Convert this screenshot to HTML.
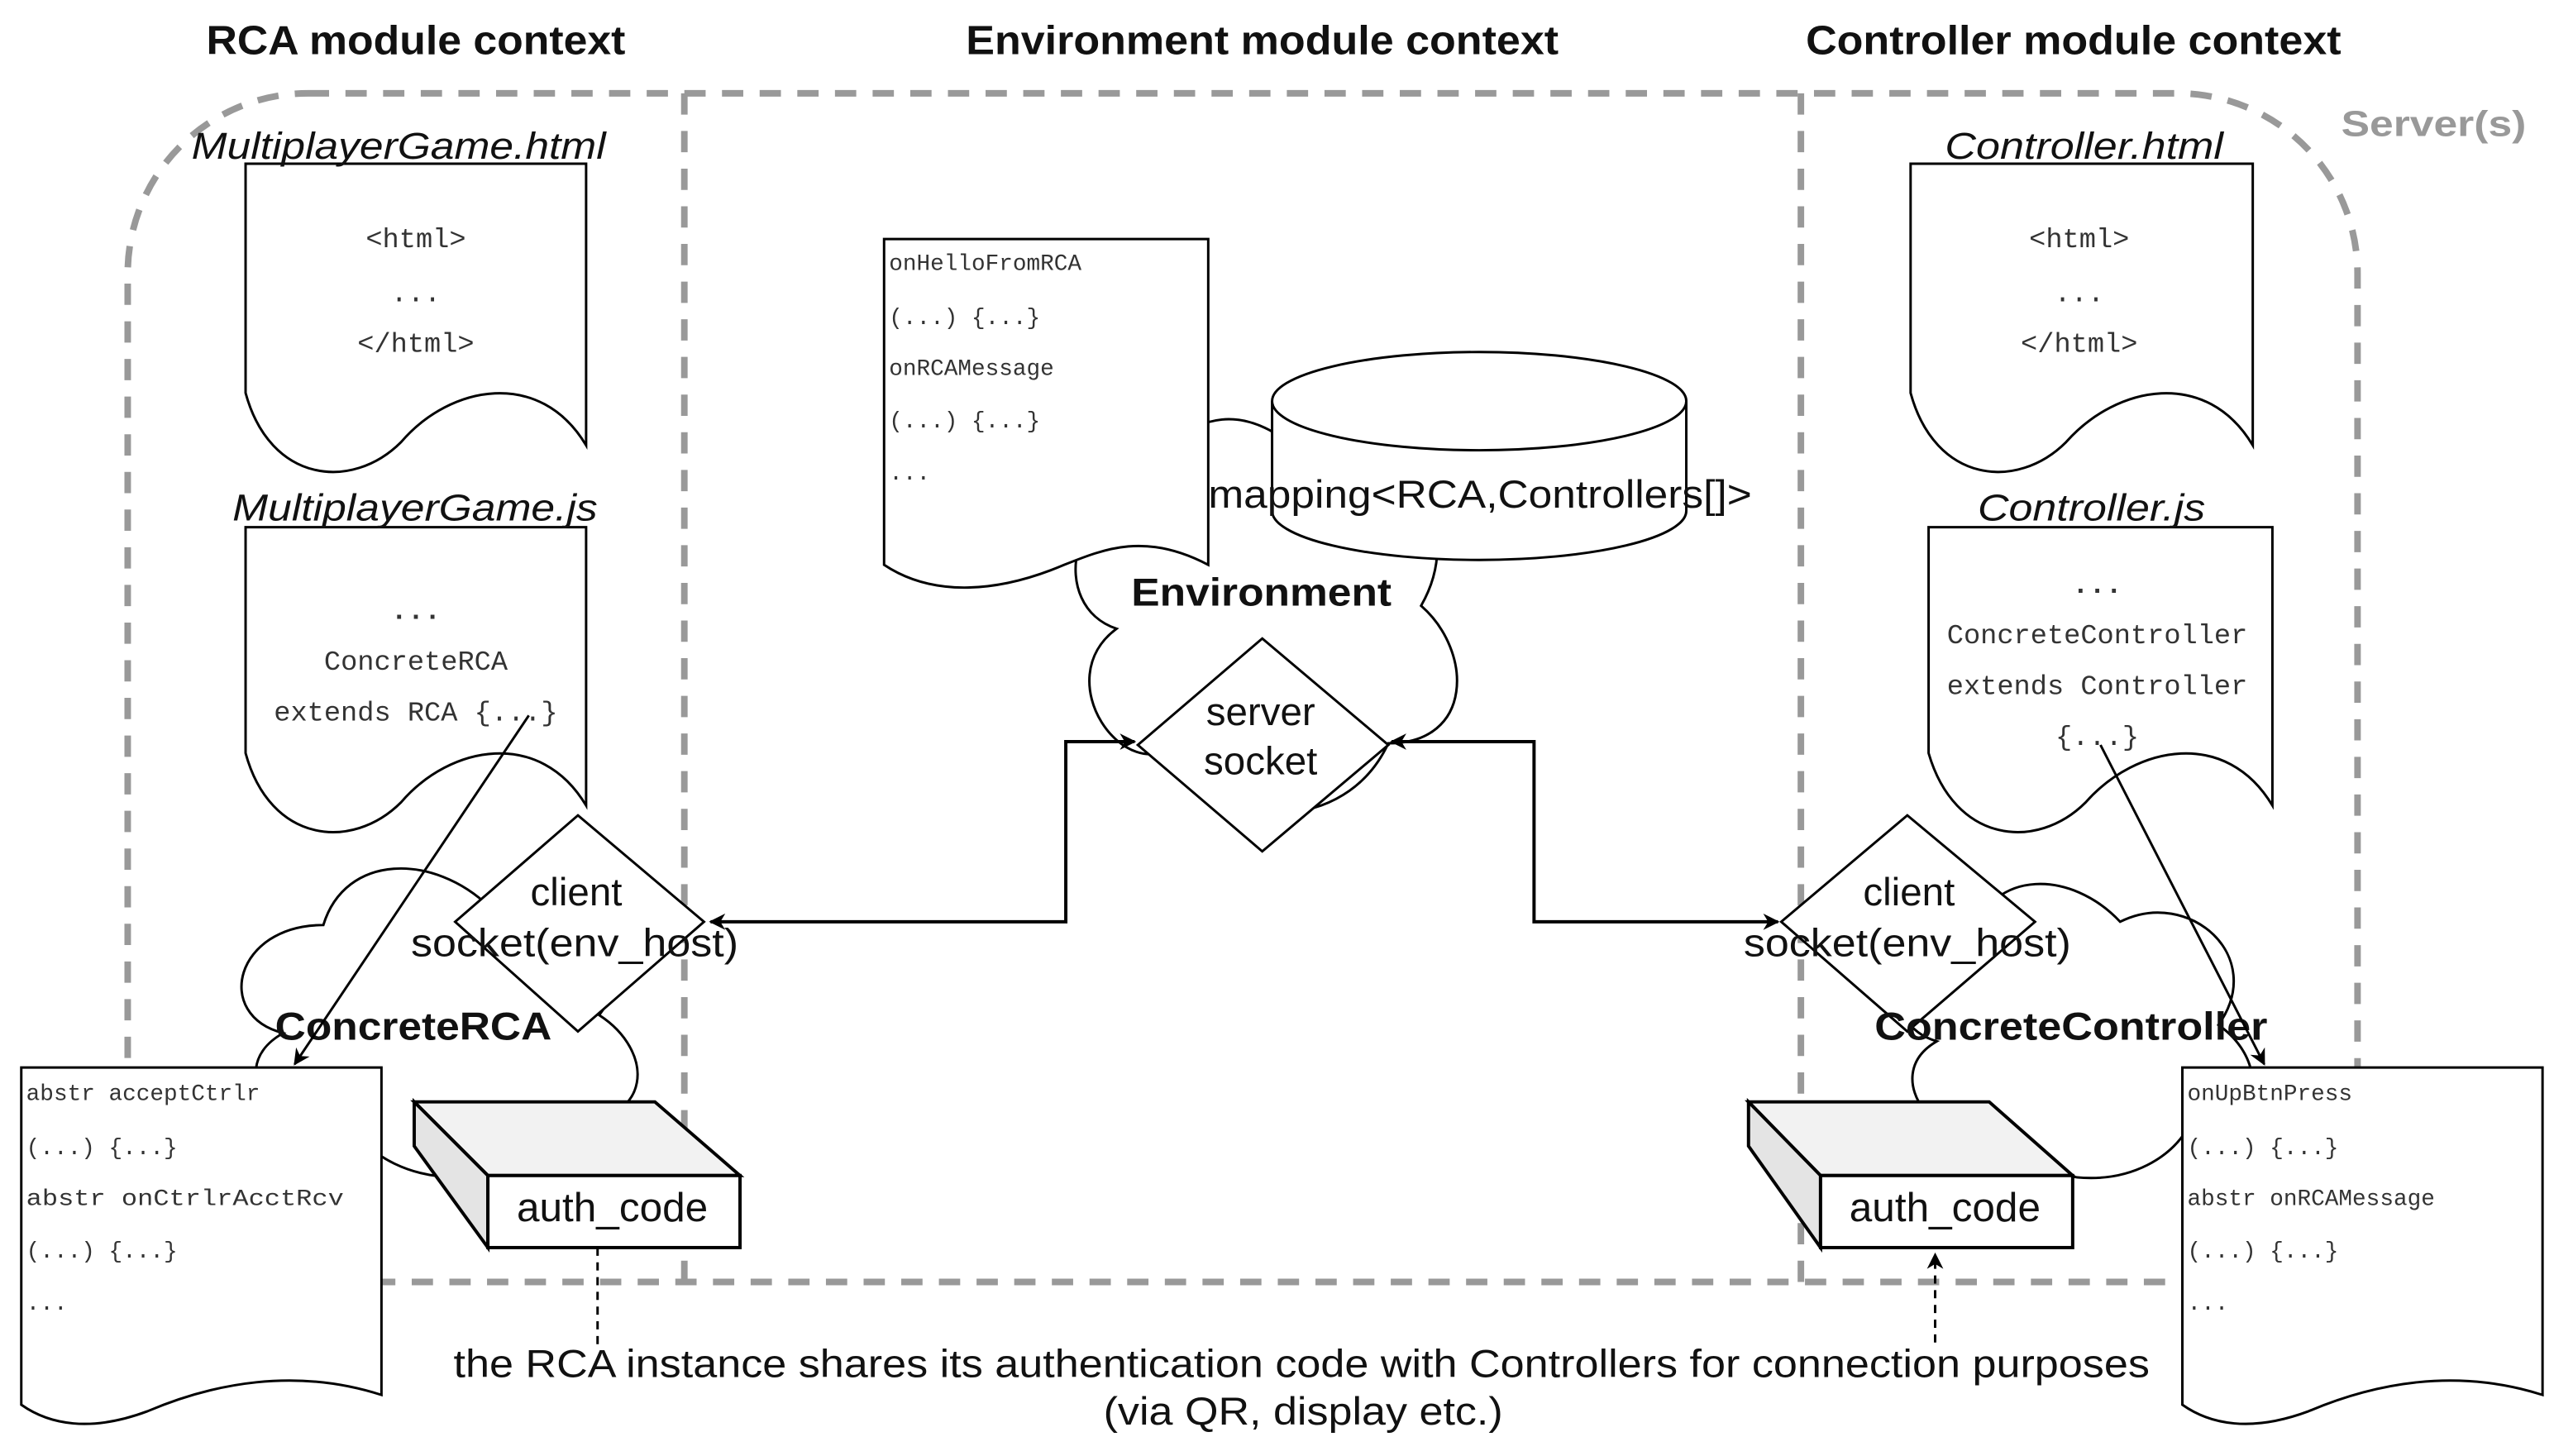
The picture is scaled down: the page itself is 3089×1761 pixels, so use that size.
<!DOCTYPE html>
<html><head><meta charset="utf-8"><style>
html,body{margin:0;padding:0;background:#fff;}
svg{display:block;}
text{font-family:"Liberation Sans",sans-serif;fill:#111;}
.m{font-family:"Liberation Mono","DejaVu Sans Mono",monospace;fill:#333;}
</style></head><body>
<svg width="3089" height="1761" viewBox="0 0 1560 889.3" preserveAspectRatio="none" xmlns="http://www.w3.org/2000/svg">
<defs>
<marker id="a" markerWidth="10" markerHeight="10" refX="9" refY="5" orient="auto" markerUnits="userSpaceOnUse"><path d="M0,0 L10,5 L0,10 L3,5 Z" fill="#000"/></marker>
<marker id="as" markerWidth="10" markerHeight="10" refX="1" refY="5" orient="auto" markerUnits="userSpaceOnUse"><path d="M10,0 L0,5 L10,10 L7,5 Z" fill="#000"/></marker>
</defs>
<rect width="1560" height="890" fill="#fff"/>
<text x="126" y="33" font-size="25" font-weight="bold" textLength="256" lengthAdjust="spacingAndGlyphs">RCA module context</text>
<text x="590" y="33" font-size="25" font-weight="bold" textLength="362" lengthAdjust="spacingAndGlyphs">Environment module context</text>
<text x="1103" y="33" font-size="25" font-weight="bold" textLength="327" lengthAdjust="spacingAndGlyphs">Controller module context</text>
<text x="1430" y="83" font-size="22" font-weight="bold" style="fill:#999" textLength="113" lengthAdjust="spacingAndGlyphs">Server(s)</text>
<g fill="none" stroke="#999" stroke-width="4" stroke-dasharray="13,10">
<rect x="78" y="57" width="1362" height="726" rx="110" ry="110"/>
<line x1="418" y1="57" x2="418" y2="783"/>
<line x1="1100" y1="57" x2="1100" y2="783"/>
</g>
<g fill="#fff" stroke="#000" stroke-width="1.5">
<path d="M197.5,565 C143.5,565 130,620 173,631 C130,655 179,708 214,686 C238,730 319,730 346,686 C400,686 400,642 366,620 C400,576 346,532 299,554 C265,521 211,521 197.5,565 Z"/>
<path d="M705,300 C653,300 640,370 682,384 C640,415 687,482 720,454 C744,510 822,510 848,454 C900,454 900,398 868,370 C900,314 848,258 802,286 C770,244 718,244 705,300 Z"/>
<path d="M1205,571 C1157,571 1145,625 1183,636 C1145,658 1188,708 1219,688 C1241,730 1313,730 1337,688 C1385,688 1385,647 1355,626 C1385,584 1337,542 1295,563 C1265,531 1217,531 1205,571 Z"/>
</g>
<g fill="#fff" stroke="#000" stroke-width="1.5">
<path d="M150,100 H358 V272 C330,225 275,235 245,270 C215,300 165,295 150,240 Z"/>
<path d="M150,322 H358 V492 C330,445 275,455 245,490 C215,520 165,515 150,460 Z"/>
<path d="M1167,100 H1376 V272 C1348,225 1293,235 1262,270 C1232,300 1182,295 1167,240 Z"/>
<path d="M1178,322 H1388 V492 C1360,445 1305,455 1274,490 C1244,520 1194,515 1178,460 Z"/>
<path d="M540,146 H738 V345 C700,325 675,335 650,345 C610,362 570,365 540,345 Z"/>
<path d="M13,652 H233 V852 C180,835 130,845 90,862 C55,875 30,870 13,858 Z"/>
<path d="M1333,652 H1553 V852 C1500,835 1450,845 1410,862 C1375,875 1350,870 1333,858 Z"/>
</g>
<text x="117" y="97" font-size="23" font-style="italic" textLength="253" lengthAdjust="spacingAndGlyphs">MultiplayerGame.html</text>
<text x="142" y="318" font-size="23" font-style="italic" textLength="223" lengthAdjust="spacingAndGlyphs">MultiplayerGame.js</text>
<text x="1188" y="97" font-size="23" font-style="italic" textLength="170" lengthAdjust="spacingAndGlyphs">Controller.html</text>
<text x="1208" y="318" font-size="23" font-style="italic" textLength="139" lengthAdjust="spacingAndGlyphs">Controller.js</text>
<g font-size="17" text-anchor="middle">
<text class="m" x="254" y="151">&lt;html&gt;</text>
<text class="m" x="254" y="184">...</text>
<text class="m" x="254" y="215">&lt;/html&gt;</text>
<text class="m" x="254" y="378" font-weight="bold">...</text>
<text class="m" x="254" y="409">ConcreteRCA</text>
<text class="m" x="254" y="440">extends RCA {...}</text>
<text class="m" x="1270" y="151">&lt;html&gt;</text>
<text class="m" x="1270" y="184">...</text>
<text class="m" x="1270" y="215">&lt;/html&gt;</text>
<text class="m" x="1281" y="362" font-weight="bold">...</text>
<text class="m" x="1281" y="393">ConcreteController</text>
<text class="m" x="1281" y="424">extends Controller</text>
<text class="m" x="1281" y="455">{...}</text>
</g>
<g font-size="14">
<text class="m" x="543" y="165">onHelloFromRCA</text>
<text class="m" x="543" y="198">(...) {...}</text>
<text class="m" x="543" y="229">onRCAMessage</text>
<text class="m" x="543" y="261">(...) {...}</text>
<text class="m" x="543" y="293">...</text>
<text class="m" x="16" y="672">abstr acceptCtrlr</text>
<text class="m" x="16" y="705">(...) {...}</text>
<text class="m" x="16" y="736" textLength="194" lengthAdjust="spacingAndGlyphs">abstr  onCtrlrAcctRcv</text>
<text class="m" x="16" y="768">(...) {...}</text>
<text class="m" x="16" y="800">...</text>
<text class="m" x="1336" y="672">onUpBtnPress</text>
<text class="m" x="1336" y="705">(...) {...}</text>
<text class="m" x="1336" y="736">abstr onRCAMessage</text>
<text class="m" x="1336" y="768">(...) {...}</text>
<text class="m" x="1336" y="800">...</text>
</g>
<g fill="#fff" stroke="#000" stroke-width="1.5">
<path d="M777,245 V312 A126.5,30 0 0 0 1030,312 V245"/>
<ellipse cx="903.5" cy="245" rx="126.5" ry="30"/>
</g>
<text x="738" y="310" font-size="24" textLength="332" lengthAdjust="spacingAndGlyphs">mapping&lt;RCA,Controllers[]&gt;</text>
<g fill="#fff" stroke="#000" stroke-width="1.5">
<path d="M771,390 L848,455 L771,520 L695,455 Z"/>
<path d="M353,498 L430,563 L353,630 L278,563 Z"/>
<path d="M1165,498 L1243,563 L1165,630 L1088,563 Z"/>
</g>
<text x="691" y="370" font-size="24" font-weight="bold" textLength="159" lengthAdjust="spacingAndGlyphs">Environment</text>
<text x="168" y="635" font-size="24" font-weight="bold" textLength="169" lengthAdjust="spacingAndGlyphs">ConcreteRCA</text>
<text x="1145" y="635" font-size="24" font-weight="bold" textLength="240" lengthAdjust="spacingAndGlyphs">ConcreteController</text>
<g font-size="24" text-anchor="middle">
<text x="770" y="443">server</text>
<text x="770" y="473">socket</text>
<text x="352" y="553">client</text>
<text x="1166" y="553">client</text>
</g>
<text x="251" y="584" font-size="24" textLength="200" lengthAdjust="spacingAndGlyphs">socket(env_host)</text>
<text x="1065" y="584" font-size="24" textLength="200" lengthAdjust="spacingAndGlyphs">socket(env_host)</text>
<g fill="none" stroke="#000" stroke-width="2">
<path d="M434,563 H651 V453 H693" marker-start="url(#as)" marker-end="url(#a)"/>
<path d="M850,453 H937 V563 H1086" marker-start="url(#as)" marker-end="url(#a)"/>
</g>
<g fill="none" stroke="#000" stroke-width="1.5">
<line x1="323" y1="437" x2="180" y2="650" marker-end="url(#a)"/>
<line x1="1283" y1="455" x2="1383" y2="650" marker-end="url(#a)"/>
</g>
<g stroke="#000" stroke-width="2">
<path d="M253,673 H400 L452,718 H298 Z" fill="#f2f2f2"/>
<path d="M253,673 L298,718 V762 L253,700 Z" fill="#e4e4e4"/>
<rect x="298" y="718" width="154" height="44" fill="#fff"/>
<path d="M1068,673 H1215 L1266,718 H1112 Z" fill="#f2f2f2"/>
<path d="M1068,673 L1112,718 V762 L1068,700 Z" fill="#e4e4e4"/>
<rect x="1112" y="718" width="154" height="44" fill="#fff"/>
</g>
<text x="374" y="746" font-size="25" text-anchor="middle">auth_code</text>
<text x="1188" y="746" font-size="25" text-anchor="middle">auth_code</text>
<g fill="none" stroke="#000" stroke-width="1.5" stroke-dasharray="5,4">
<line x1="365" y1="762" x2="365" y2="822"/>
<line x1="1182" y1="820" x2="1182" y2="766" marker-end="url(#a)"/>
</g>
<text x="277" y="841" font-size="24" textLength="1036" lengthAdjust="spacingAndGlyphs">the RCA instance shares its authentication code with Controllers for connection purposes</text>
<text x="674" y="870" font-size="24" textLength="244" lengthAdjust="spacingAndGlyphs">(via QR, display etc.)</text>
</svg>
</body></html>
